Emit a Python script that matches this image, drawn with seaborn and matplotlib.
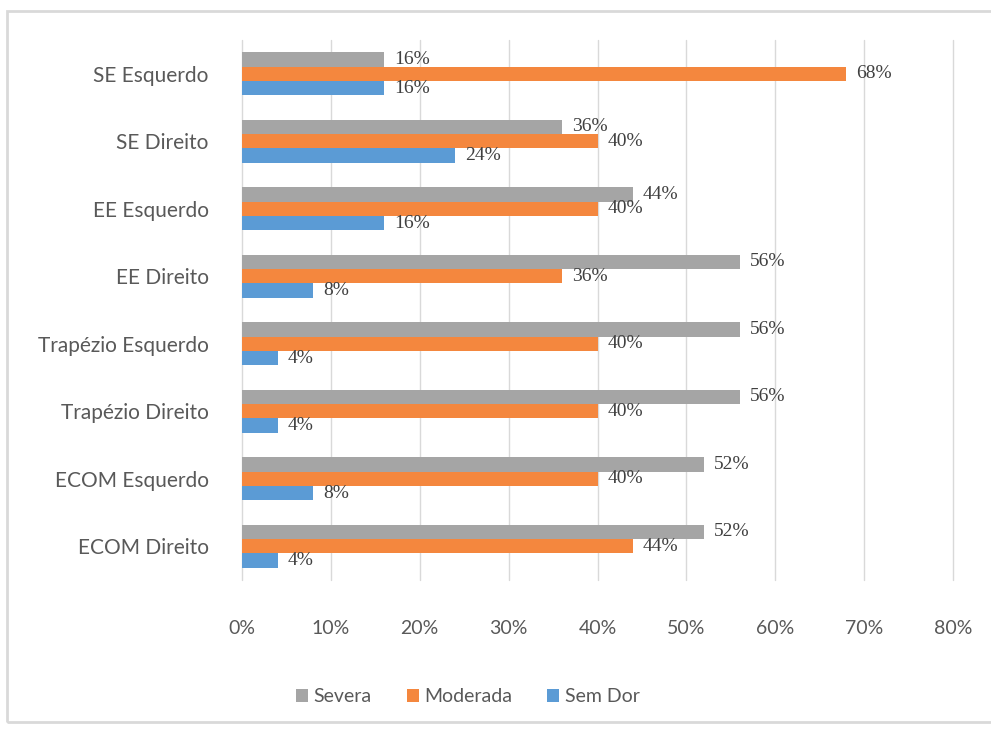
import matplotlib
matplotlib.use("Agg")
import matplotlib.pyplot as plt
import seaborn as sns
import pandas as pd
from matplotlib.patches import Rectangle

categories = ["SE Esquerdo", "SE Direito", "EE Esquerdo", "EE Direito",
              "Trapézio Esquerdo", "Trapézio Direito", "ECOM Esquerdo", "ECOM Direito"]
series = ["Severa", "Moderada", "Sem Dor"]
severa = [16, 36, 44, 56, 56, 56, 52, 52]
moderada = [68, 40, 40, 36, 40, 40, 40, 44]
sem_dor = [16, 24, 16, 8, 4, 4, 8, 4]
colors = ["#A5A5A5", "#F4873E", "#5B9BD5"]
xticks = [0, 10, 20, 30, 40, 50, 60, 70, 80]

rows = []
for s, vals in zip(series, [severa, moderada, sem_dor]):
    for c, v in zip(categories, vals):
        rows.append({"cat": c, "serie": s, "val": v})
df = pd.DataFrame(rows)

sns.set_style("white")
plt.rcParams["font.family"] = ["Lato", "DejaVu Sans"]

fig = plt.figure(figsize=(9.91, 7.29), dpi=100)
ax = fig.add_axes([242/991, 1-580/729, (953-242)/991, (580-40)/729])

sns.barplot(data=df, y="cat", x="val", hue="serie", order=categories,
            hue_order=series, palette=colors, orient="h", width=0.64,
            ax=ax, legend=True, saturation=1, linewidth=0)

ax.set_xlim(0, 80)
ax.set_ylim(7.5, -0.5)
ax.set_xticks(xticks)
ax.set_xticklabels([f"{t}%" for t in xticks], color="#595959", fontsize=14)
ax.tick_params(axis="y", labelsize=15, labelcolor="#595959", length=0, pad=24)
ax.tick_params(axis="x", length=0, pad=29)
ax.set_xlabel("")
ax.set_ylabel("")
ax.grid(False)
for t in xticks:
    ax.axvline(t, color="#D9D9D9", linewidth=1, zorder=0, clip_on=False)
for sp in ax.spines.values():
    sp.set_visible(False)

for cont in ax.containers:
    for bar in cont:
        w = bar.get_width()
        y = bar.get_y() + bar.get_height() / 2
        ax.text(w + 1.1, y, f"{w:.0f}%", va="center", ha="left",
                fontsize=14, color="#404040", family=["Liberation Serif"])

handles, labels = ax.get_legend_handles_labels()
ax.legend_.remove()
fig.legend(handles, labels, loc="center", bbox_to_anchor=(468/991, 1-697/729),
           ncol=3, frameon=False, fontsize=14, handlelength=0.6, handleheight=0.6,
           handletextpad=0.3, columnspacing=1.8, labelcolor="#595959")

fig.patches.append(Rectangle((7/991, 1-722/729), 1.0, (722-11)/729,
                             transform=fig.transFigure, fill=False,
                             edgecolor="#D9D9D9", linewidth=2))

fig.savefig("out.png", dpi=100, facecolor="white")
